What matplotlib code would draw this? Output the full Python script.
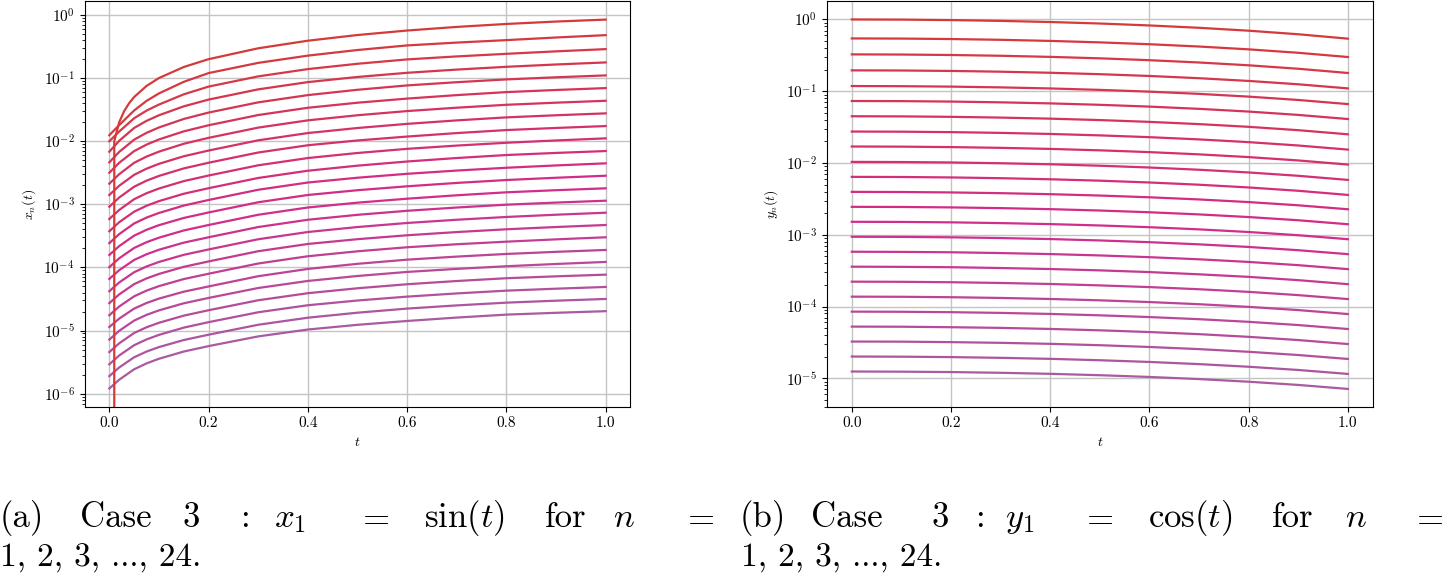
import numpy as np
import matplotlib.pyplot as plt
from matplotlib.colors import LinearSegmentedColormap

plt.rcParams.update({
    'font.family': 'serif',
    'font.serif': ['cmr10'],
    'mathtext.fontset': 'cm',
    'axes.formatter.use_mathtext': True,
})

# ---- left panel: x_n(t), n = 1..24 ----
t_sin = [0.0, 0.01, 0.02, 0.03, 0.04, 0.05, 0.075, 0.1, 0.15, 0.2, 0.3, 0.4,
         0.5, 0.6, 0.7, 0.8, 0.9, 1.0]
x1_vals = [0.0, 0.01, 0.02, 0.03, 0.04, 0.05, 0.0749, 0.0998, 0.1494, 0.1987,
           0.2955, 0.3894, 0.4794, 0.5646, 0.6442, 0.7174, 0.7833, 0.8415]

t_x = [0.0, 0.02, 0.05, 0.075, 0.1, 0.15, 0.2, 0.3, 0.4, 0.5, 0.6, 0.7, 0.8, 0.9, 1.0]
x_rest = [
    [0.0124, 0.0180, 0.0306, 0.0434, 0.0570, 0.0870, 0.1196, 0.1736, 0.2261, 0.2775, 0.328, 0.3638, 0.398, 0.4379, 0.477],
    [0.00996, 0.01423, 0.02303, 0.03046, 0.03794, 0.05514, 0.0731, 0.1061, 0.1383, 0.1680, 0.1969, 0.2197, 0.2415, 0.2643, 0.2866],
    [0.0068, 0.01015, 0.01618, 0.02096, 0.02569, 0.03559, 0.04551, 0.06608, 0.0861, 0.1038, 0.1209, 0.1359, 0.1504, 0.1637, 0.1765],
    [0.00462, 0.00677, 0.01056, 0.01354, 0.01647, 0.02245, 0.02835, 0.04115, 0.0536, 0.06509, 0.0763, 0.08582, 0.095, 0.1026, 0.1099],
    [0.00316, 0.00455, 0.00695, 0.00882, 0.01064, 0.01429, 0.01785, 0.02592, 0.03377, 0.0406, 0.0472, 0.05358, 0.0598, 0.06459, 0.0692],
    [0.00212, 0.0030, 0.00454, 0.0057, 0.00682, 0.00909, 0.01128, 0.01638, 0.02134, 0.02571, 0.02995, 0.03386, 0.03766, 0.04067, 0.04357],
    [1.404e-3, 1.969e-3, 2.929e-3, 3.666e-3, 4.373e-3, 5.764e-3, 7.10e-3, 1.031e-2, 1.343e-2, 1.615e-2, 1.878e-2, 2.132e-2, 2.379e-2, 2.570e-2, 2.754e-2],
    [9.16e-4, 1.281e-3, 1.899e-3, 2.367e-3, 2.814e-3, 3.701e-3, 4.55e-3, 6.607e-3, 8.61e-3, 1.025e-2, 1.182e-2, 1.342e-2, 1.498e-2, 1.618e-2, 1.734e-2],
    [5.85e-4, 8.15e-4, 1.204e-3, 1.498e-3, 1.778e-3, 2.329e-3, 2.855e-3, 4.145e-3, 5.40e-3, 6.493e-3, 7.55e-3, 8.506e-3, 9.43e-3, 1.026e-2, 1.107e-2],
    [3.74e-4, 5.21e-4, 7.64e-4, 9.48e-4, 1.123e-3, 1.469e-3, 1.798e-3, 2.611e-3, 3.40e-3, 4.091e-3, 4.76e-3, 5.404e-3, 6.03e-3, 6.509e-3, 6.97e-3],
    [2.424e-4, 3.377e-4, 4.97e-4, 6.159e-4, 7.29e-4, 9.547e-4, 1.17e-3, 1.699e-3, 2.212e-3, 2.634e-3, 3.039e-3, 3.421e-3, 3.79e-3, 4.125e-3, 4.45e-3],
    [1.577e-4, 2.181e-4, 3.185e-4, 3.946e-4, 4.67e-4, 6.08e-4, 7.42e-4, 1.077e-3, 1.404e-3, 1.671e-3, 1.927e-3, 2.179e-3, 2.423e-3, 2.632e-3, 2.834e-3],
    [1.011e-4, 1.398e-4, 2.034e-4, 2.51e-4, 2.96e-4, 3.852e-4, 4.70e-4, 6.827e-4, 8.90e-4, 1.061e-3, 1.226e-3, 1.389e-3, 1.548e-3, 1.672e-3, 1.791e-3],
    [6.58e-5, 9.06e-5, 1.314e-4, 1.618e-4, 1.906e-4, 2.47e-4, 3.004e-4, 4.363e-4, 5.69e-4, 6.811e-4, 7.89e-4, 8.891e-4, 9.86e-4, 1.0645e-3, 1.14e-3],
    [4.20e-5, 5.79e-5, 8.40e-5, 1.036e-4, 1.222e-4, 1.584e-4, 1.927e-4, 2.796e-4, 3.64e-4, 4.363e-4, 5.06e-4, 5.691e-4, 6.30e-4, 6.839e-4, 7.36e-4],
    [2.72e-5, 3.75e-5, 5.44e-5, 6.699e-5, 7.89e-5, 1.023e-4, 1.245e-4, 1.807e-4, 2.353e-4, 2.802e-4, 3.232e-4, 3.633e-4, 4.02e-4, 4.366e-4, 4.70e-4],
    [1.75e-5, 2.41e-5, 3.49e-5, 4.297e-5, 5.06e-5, 6.546e-5, 7.95e-5, 1.154e-4, 1.504e-4, 1.801e-4, 2.088e-4, 2.329e-4, 2.559e-4, 2.785e-4, 3.004e-4],
    [1.14e-5, 1.55e-5, 2.23e-5, 2.735e-5, 3.21e-5, 4.133e-5, 5.00e-5, 7.263e-5, 9.47e-5, 1.141e-4, 1.328e-4, 1.485e-4, 1.635e-4, 1.766e-4, 1.892e-4],
    [7.2e-6, 9.93e-6, 1.44e-5, 1.774e-5, 2.09e-5, 2.706e-5, 3.29e-5, 4.726e-5, 6.11e-5, 7.322e-5, 8.49e-5, 9.491e-5, 1.045e-4, 1.135e-4, 1.222e-4],
    [4.57e-6, 6.3e-6, 9.16e-6, 1.1285e-5, 1.33e-5, 1.725e-5, 2.10e-5, 3.021e-5, 3.91e-5, 4.68e-5, 5.42e-5, 6.096e-5, 6.75e-5, 7.231e-5, 7.69e-5],
    [2.92e-6, 4.04e-6, 5.87e-6, 7.246e-6, 8.55e-6, 1.114e-5, 1.36e-5, 1.951e-5, 2.52e-5, 2.995e-5, 3.45e-5, 3.878e-5, 4.29e-5, 4.607e-5, 4.91e-5],
    [1.9e-6, 2.61e-6, 3.78e-6, 4.654e-6, 5.48e-6, 7.089e-6, 8.61e-6, 1.237e-5, 1.60e-5, 1.92e-5, 2.23e-5, 2.505e-5, 2.77e-5, 2.975e-5, 3.17e-5],
    [1.21e-6, 1.67e-6, 2.44e-6, 3.024e-6, 3.58e-6, 4.659e-6, 5.68e-6, 8.092e-6, 1.04e-5, 1.234e-5, 1.42e-5, 1.608e-5, 1.79e-5, 1.913e-5, 2.03e-5],
]

# ---- right panel: y_n(t), n = 1..24 ----
t_y = [0.0, 0.1, 0.2, 0.3, 0.4, 0.5, 0.6, 0.7, 0.8, 0.9, 1.0]
y_vals = [
    [1.0, 0.995, 0.980, 0.955, 0.921, 0.878, 0.825, 0.765, 0.697, 0.622, 0.540],
    [0.544, 0.5414, 0.5335, 0.5204, 0.5023, 0.4793, 0.4516, 0.4195, 0.3832, 0.3432, 0.2996],
    [0.326, 0.3244, 0.3197, 0.3119, 0.3010, 0.2872, 0.2706, 0.2514, 0.2297, 0.2056, 0.1795],
    [0.1953, 0.1944, 0.1917, 0.1871, 0.1808, 0.1727, 0.1631, 0.1518, 0.1391, 0.1249, 0.1095],
    [0.1181, 0.1175, 0.1159, 0.1131, 0.1093, 0.1044, 0.0986, 0.0918, 0.0841, 0.0755, 0.0662],
    [0.0731, 0.07276, 0.07173, 0.07002, 0.06766, 0.06465, 0.06103, 0.05681, 0.05205, 0.04675, 0.04098],
    [0.0448, 0.04459, 0.04396, 0.04291, 0.04147, 0.03962, 0.0374, 0.03482, 0.0319, 0.02865, 0.02511],
    [0.02742, 0.02729, 0.02691, 0.02627, 0.02538, 0.02425, 0.02289, 0.02131, 0.01952, 0.01753, 0.01537],
    [0.01697, 0.01689, 0.01665, 0.01626, 0.01571, 0.01501, 0.01417, 0.01319, 0.01208, 0.01085, 0.00951],
    [0.01036, 0.01031, 0.01017, 0.00992, 0.00959, 0.00916, 0.00865, 0.00805, 0.00738, 0.00663, 0.00581],
    [0.00641, 0.00638, 0.00629, 0.00614, 0.00593, 0.00567, 0.00535, 0.00498, 0.00456, 0.0041, 0.00359],
    [0.00396, 0.003942, 0.003888, 0.003799, 0.003676, 0.003518, 0.003327, 0.003105, 0.002853, 0.002573, 0.002266],
    [0.00245, 0.002439, 0.002406, 0.002351, 0.002274, 0.002176, 0.002058, 0.001921, 0.001765, 0.001592, 0.001402],
    [1.516e-3, 1.509e-3, 1.489e-3, 1.454e-3, 1.407e-3, 1.347e-3, 1.274e-3, 1.189e-3, 1.092e-3, 9.85e-4, 8.67e-4],
    [9.38e-4, 9.34e-4, 9.21e-4, 9.00e-4, 8.71e-4, 8.33e-4, 7.88e-4, 7.35e-4, 6.76e-4, 6.09e-4, 5.37e-4],
    [5.80e-4, 5.77e-4, 5.70e-4, 5.56e-4, 5.38e-4, 5.15e-4, 4.87e-4, 4.55e-4, 4.18e-4, 3.77e-4, 3.32e-4],
    [3.59e-4, 3.57e-4, 3.53e-4, 3.44e-4, 3.33e-4, 3.19e-4, 3.02e-4, 2.81e-4, 2.59e-4, 2.33e-4, 2.05e-4],
    [2.22e-4, 2.21e-4, 2.18e-4, 2.13e-4, 2.06e-4, 1.97e-4, 1.865e-4, 1.741e-4, 1.600e-4, 1.442e-4, 1.270e-4],
    [1.373e-4, 1.367e-4, 1.348e-4, 1.317e-4, 1.274e-4, 1.220e-4, 1.154e-4, 1.077e-4, 9.89e-5, 8.92e-5, 7.86e-5],
    [8.49e-5, 8.45e-5, 8.34e-5, 8.15e-5, 7.88e-5, 7.54e-5, 7.13e-5, 6.66e-5, 6.12e-5, 5.52e-5, 4.86e-5],
    [5.25e-5, 5.23e-5, 5.15e-5, 5.04e-5, 4.87e-5, 4.66e-5, 4.41e-5, 4.12e-5, 3.78e-5, 3.41e-5, 3.00e-5],
    [3.25e-5, 3.24e-5, 3.19e-5, 3.12e-5, 3.02e-5, 2.89e-5, 2.73e-5, 2.55e-5, 2.34e-5, 2.11e-5, 1.86e-5],
    [2.01e-5, 2.00e-5, 1.974e-5, 1.928e-5, 1.866e-5, 1.785e-5, 1.689e-5, 1.576e-5, 1.448e-5, 1.306e-5, 1.150e-5],
    [1.243e-5, 1.237e-5, 1.221e-5, 1.193e-5, 1.154e-5, 1.104e-5, 1.044e-5, 9.75e-6, 8.96e-6, 8.08e-6, 7.11e-6],
]

cmap = LinearSegmentedColormap.from_list(
    'redpurple', [(0.0, '#d53a3a'), (0.55, '#d22b8a'), (1.0, '#a95aa0')])
colors = cmap(np.linspace(0, 1, 24))

fig = plt.figure(figsize=(14.42, 5.76), dpi=100)
ax1 = fig.add_axes([0.0586, 0.2934, 0.3786, 0.7046])
ax2 = fig.add_axes([0.5735, 0.2934, 0.3784, 0.7046])

for ax in (ax1, ax2):
    ax.set_yscale('log')

# high n first so the low-n (red) curves sit on top
for i in reversed(range(len(x_rest))):
    ax1.plot(t_x, x_rest[i], color=colors[i + 1], lw=1.6)
ax1.plot(t_sin, x1_vals, color=colors[0], lw=1.6)

for i in reversed(range(len(y_vals))):
    ax2.plot(t_y, y_vals[i], color=colors[i], lw=1.6)

ax1.set_ylim(10 ** -6.21, 10 ** 0.217)
ax2.set_ylim(10 ** -5.40, 10 ** 0.255)

for ax, lab in ((ax1, r'$x_n(t)$'), (ax2, r'$y_n(t)$')):
    ax.set_xlim(-0.05, 1.05)
    ax.set_xticks([0.0, 0.2, 0.4, 0.6, 0.8, 1.0])
    ax.set_xticklabels(['0.0', '0.2', '0.4', '0.6', '0.8', '1.0'])
    ax.grid(True, which='major', color='#c4c4c4', lw=1.0)
    ax.tick_params(labelsize=11)
    ax.set_xlabel(r'$t$', fontsize=10)
    ax.set_ylabel(lab, fontsize=10)

# captions (justified lines, placed word by word)
cap_a = [(0, '(a)'), (80, 'Case'), (183, '3'), (240, ':'), (274, r'$x_1$'),
         (356, r'$=$'), (424, r'$\sin(t)$'), (545, 'for'), (613, r'$n$'),
         (681, r'$=$')]
cap_b = [(740, '(b)'), (811, 'Case'), (931, '3'), (975, ':'), (1005, r'$y_1$'),
         (1080, r'$=$'), (1148, r'$\cos(t)$'), (1272, 'for'), (1345, r'$n$'),
         (1410, r'$=$')]
W, H = 1442.0, 576.0
for xp, s in cap_a + cap_b:
    fig.text(xp / W, 1 - 527 / H, s, fontsize=25, ha='left', va='baseline')
for xp in (0, 741):
    fig.text(xp / W, 1 - 567 / H, '1, 2, 3, ..., 24.', fontsize=24,
             ha='left', va='baseline')

fig.savefig('out.png', dpi=100)
